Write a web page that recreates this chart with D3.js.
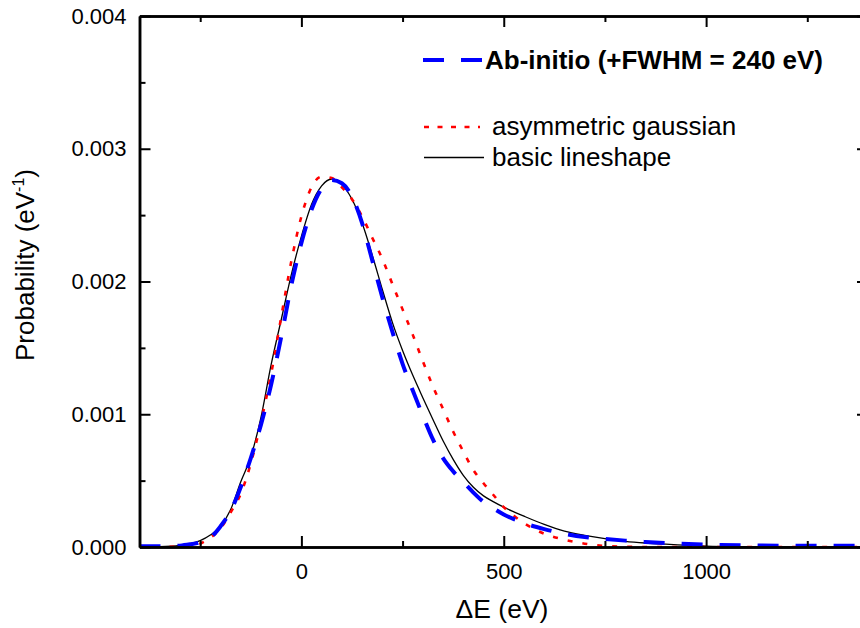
<!DOCTYPE html>
<html>
<head>
<meta charset="utf-8">
<script src="https://cdn.jsdelivr.net/npm/d3@7"></script>
<style>
    body { margin: 0; background: #fff; }
    svg { display: block; font-family: "Liberation Sans", Arial, sans-serif; }
</style>
</head>
<body>
<div id="chart"></div>
<script>
    /*#########
      Data
    #########*/

    //Energy grid (eV)
    const energy = [-400, -350, -300, -275, -250, -225, -200, -175, -150, -125, -100, -75, -50, -25,
        0, 25, 50, 75, 100, 125, 150, 175, 200, 225, 250, 275, 300, 325, 350, 375, 400, 425, 450, 475,
        500, 525, 550, 600, 650, 700, 750, 800, 850, 900, 1000, 1100, 1200, 1300, 1400];

    //Probabilities, in units of 1e-3 eV^-1
    const abInitio = [0.005, 0.005, 0.01, 0.02, 0.035, 0.07, 0.155, 0.27, 0.45, 0.67, 0.92, 1.22, 1.58, 1.97,
        2.29, 2.54, 2.70, 2.765, 2.74, 2.64, 2.44, 2.16, 1.88, 1.62, 1.38, 1.18, 0.99, 0.81, 0.67, 0.57, 0.49, 0.41, 0.34, 0.29,
        0.245, 0.21, 0.18, 0.135, 0.10, 0.075, 0.06, 0.048, 0.038, 0.03, 0.018, 0.013, 0.01, 0.01, 0.008];

    const asymGauss = [0, 0, 0.003, 0.01, 0.025, 0.07, 0.14, 0.26, 0.40, 0.63, 0.94, 1.30, 1.73, 2.15,
        2.49, 2.71, 2.79, 2.78, 2.71, 2.62, 2.49, 2.33, 2.17, 1.98, 1.79, 1.60, 1.40, 1.21, 1.04, 0.87, 0.72, 0.58, 0.48, 0.39,
        0.30, 0.235, 0.18, 0.10, 0.055, 0.025, 0.008, 0.002, 0, 0, 0, 0, 0, 0, 0];

    const basicShape = [0, 0.002, 0.012, 0.025, 0.048, 0.09, 0.155, 0.28, 0.49, 0.68, 0.975, 1.37, 1.71, 2.05,
        2.34, 2.58, 2.72, 2.772, 2.73, 2.62, 2.44, 2.20, 1.94, 1.69, 1.48, 1.295, 1.125, 0.96, 0.80, 0.66, 0.54, 0.45, 0.385, 0.34,
        0.30, 0.265, 0.232, 0.17, 0.12, 0.088, 0.063, 0.043, 0.03, 0.021, 0.007, 0.002, 0, 0, 0];

    //Ticks
    const xMajor = [0, 500, 1000];
    const xMinor = [-250, 250, 750, 1250];
    const yMajor = [0, 0.001, 0.002, 0.003, 0.004];
    const yMinor = [0.0005, 0.0015, 0.0025, 0.0035];

    /*#########
      Global
    #########*/

    const W = 860, H = 628;
    const margin = { top: 16, left: 139.5, bottom: 81, right: -8 };
    const width = W - margin.left - margin.right;
    const height = H - margin.top - margin.bottom;

    const svg = d3.select('#chart')
        .append('svg')
        .attr('width', W)
        .attr('height', H)
        .style('overflow', 'hidden');

    const g = svg.append('g')
        .attr('transform', 'translate(' + margin.left + ',' + margin.top + ')');

    //Scales
    const x = d3.scaleLinear().domain([-400, 1400]).range([0, width]);
    const y = d3.scaleLinear().domain([0, 0.004]).range([height, 0]);

    g.append('clipPath').attr('id', 'clip')
        .append('rect').attr('width', width).attr('height', height);

    /*#########
      Curves
    #########*/

    const line = d3.line()
        .x(d => x(d[0]))
        .y(d => y(d[1] / 1000))
        .curve(d3.curveMonotoneX);

    const series = [
        { name: 'basic', vals: basicShape, color: '#000', width: 1.3, dash: null },
        { name: 'asym', vals: asymGauss, color: '#ff0000', width: 2.6, dash: '5,10' },
        { name: 'abinitio', vals: abInitio, color: '#0000ff', width: 4, dash: '21,17' }
    ];

    g.append('g').attr('clip-path', 'url(#clip)')
        .selectAll('path')
        .data(series)
        .join('path')
        .attr('d', s => line(energy.map((e, i) => [e, s.vals[i]])))
        .style('fill', 'none')
        .style('stroke', s => s.color)
        .style('stroke-width', s => s.width)
        .style('stroke-dasharray', s => s.dash)
        .style('stroke-linejoin', 'round');

    /*#########
      Axes
    #########*/

    function styleAxis(sel) {
        sel.select('.domain').style('stroke', '#000').style('stroke-width', 2.5);
        sel.selectAll('.tick line').style('stroke', '#000').style('stroke-width', 2);
        sel.selectAll('.tick text').style('font-size', '22px').style('fill', '#000')
            .style('font-family', '"Liberation Sans", Arial, sans-serif');
    }

    //Bottom
    g.append('g').attr('transform', 'translate(0,' + height + ')')
        .call(d3.axisBottom(x).tickValues(xMajor).tickSize(-11).tickSizeOuter(0).tickPadding(16).tickFormat(d3.format('d')))
        .call(styleAxis);
    g.append('g').attr('transform', 'translate(0,' + height + ')')
        .call(d3.axisBottom(x).tickValues(xMinor).tickSize(-6).tickSizeOuter(0).tickFormat(''))
        .call(styleAxis);

    //Top
    g.append('g')
        .call(d3.axisTop(x).tickValues(xMajor).tickSize(-11).tickSizeOuter(0).tickFormat(''))
        .call(styleAxis);
    g.append('g')
        .call(d3.axisTop(x).tickValues(xMinor).tickSize(-6).tickSizeOuter(0).tickFormat(''))
        .call(styleAxis);

    //Left
    g.append('g')
        .call(d3.axisLeft(y).tickValues(yMajor).tickSize(-11).tickSizeOuter(0).tickPadding(13).tickFormat(d3.format('.3f')))
        .call(styleAxis);
    g.append('g')
        .call(d3.axisLeft(y).tickValues(yMinor).tickSize(-6).tickSizeOuter(0).tickFormat(''))
        .call(styleAxis);

    //Right
    g.append('g').attr('transform', 'translate(' + width + ',0)')
        .call(d3.axisRight(y).tickValues(yMajor).tickSize(-11).tickSizeOuter(0).tickFormat(''))
        .call(styleAxis);
    g.append('g').attr('transform', 'translate(' + width + ',0)')
        .call(d3.axisRight(y).tickValues(yMinor).tickSize(-6).tickSizeOuter(0).tickFormat(''))
        .call(styleAxis);

    //Axis titles
    svg.append('text')
        .attr('x', 502)
        .attr('y', 618)
        .style('text-anchor', 'middle')
        .style('font-size', '26.5px')
        .text('\u0394E (eV)');

    const yTitle = svg.append('text')
        .attr('transform', 'translate(34,265) rotate(-90)')
        .style('text-anchor', 'middle')
        .style('font-size', '26px');
    yTitle.append('tspan').text('Probability (eV');
    yTitle.append('tspan').attr('dy', -10).style('font-size', '16px').text('-1');
    yTitle.append('tspan').attr('dy', 10).text(')');

    /*#########
      Legend
    #########*/

    const legend = [
        { label: 'Ab-initio (+FWHM = 240 eV)', color: '#0000ff', width: 4, dash: '21,17', x1: 423, x2: 483, ly: 60, tx: 485, ty: 69, bold: true },
        { label: 'asymmetric gaussian', color: '#ff0000', width: 2.6, dash: '5,8.5', x1: 424, x2: 480, ly: 127, tx: 492, ty: 135, bold: false },
        { label: 'basic lineshape', color: '#000', width: 1.3, dash: null, x1: 424, x2: 484, ly: 157.5, tx: 492, ty: 166, bold: false }
    ];

    const lg = svg.append('g').selectAll('g').data(legend).join('g');
    lg.append('line')
        .attr('x1', d => d.x1).attr('x2', d => d.x2)
        .attr('y1', d => d.ly).attr('y2', d => d.ly)
        .style('stroke', d => d.color)
        .style('stroke-width', d => d.width)
        .style('stroke-dasharray', d => d.dash);
    lg.append('text')
        .attr('x', d => d.tx).attr('y', d => d.ty)
        .style('font-size', '26px')
        .style('font-weight', d => d.bold ? 'bold' : 'normal')
        .text(d => d.label);
</script>
</body>
</html>
